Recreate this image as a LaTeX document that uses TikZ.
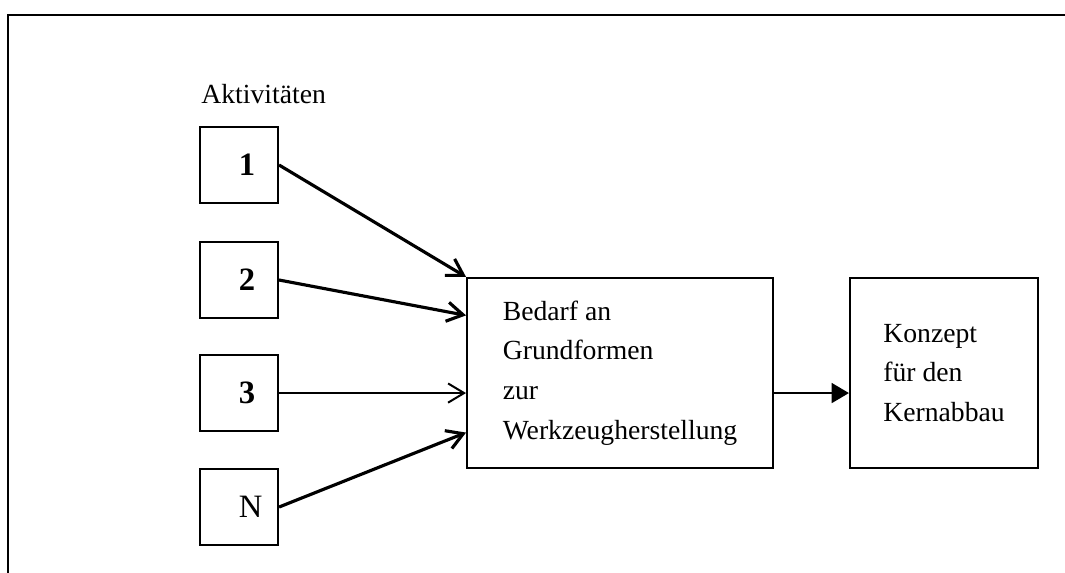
\documentclass[tikz,border=0pt]{standalone}
\usepackage{fontspec}
\setmainfont{Liberation Serif}
\usetikzlibrary{positioning, arrows.meta, calc}

\begin{document}
\begin{tikzpicture}[
    box/.style = {
        rectangle, draw, line width=0.9pt, align=left,
        font=\fontsize{12.3}{17.6}\selectfont
    },
    actbox/.style = {
        box, minimum width=1.22cm, minimum height=1.19cm,
        font=\fontsize{14.5}{16}\selectfont
    },
    arrow/.style = {
        -{Straight Barb[length=2.5mm, width=3mm]}, line width=1.4pt
    },
    flow/.style = {
        -{Triangle[length=2.7mm, width=3.1mm]}, line width=0.9pt
    }
]

% Frame, open at the bottom
\useasboundingbox (0,0) rectangle (16.64,-8.95);
\draw[line width=1.1pt] (0.125,-8.95) -- (0.125,-0.234) -- (16.64,-0.234);

% Column 1 ── activities
\node[anchor=base west, inner sep=0pt, font=\fontsize{12.3}{14}\selectfont] (act) at (3.14,-1.62) {Aktivitäten};
\node[actbox] (a1) at (3.734,-2.578) {\rlap{\bfseries 1}};
\node[actbox] (a2) at (3.734,-4.375) {\rlap{\bfseries 2}};
\node[actbox] (a3) at (3.734,-6.141) {\rlap{\bfseries 3}};
\node[actbox] (aN) at (3.734,-7.922) {\rlap{N}};

% Column 2 and 3 ── demand and concept
\node[box, minimum width=4.78cm, minimum height=2.97cm] (bedarf) at (9.6875,-5.828)
    {Bedarf an\\Grundformen\\zur\\Werkzeugherstellung};
\node[box, minimum width=2.94cm, minimum height=2.97cm] (konzept) at (14.75,-5.828)
    {Konzept\\für den\\Kernabbau};

% Activities into demand
\draw[arrow] (a1.east) -- (bedarf.north west);
\draw[arrow] (a2.east) -- ($(bedarf.north west)!0.2!(bedarf.south west)$);
\draw[arrow, line width=0.9pt] (a3.east) -- (a3 -| bedarf.west);
\draw[arrow] (aN.east) -- ($(bedarf.north west)!0.81!(bedarf.south west)$);

% Demand into concept
\draw[flow] (a3 -| bedarf.east) -- (a3 -| konzept.west);

\end{tikzpicture}
\end{document}
